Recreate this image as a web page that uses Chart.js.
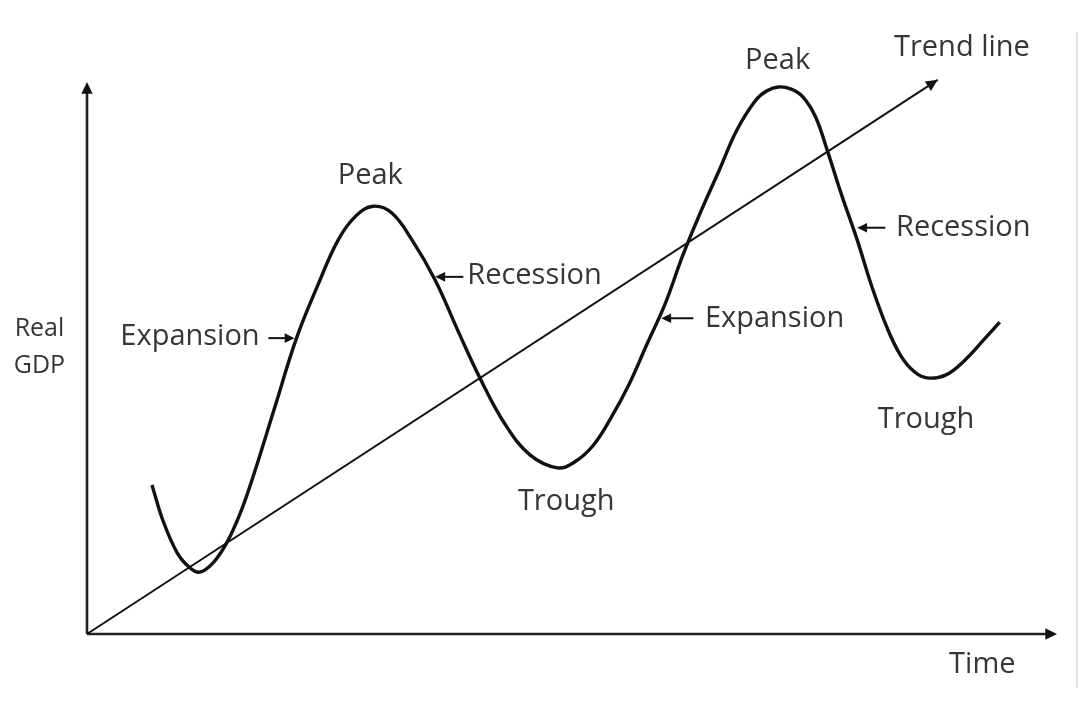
<!DOCTYPE html>
<html>
<head>
<meta charset="utf-8">
<title>Business cycle</title>
<script src="https://cdn.jsdelivr.net/npm/chart.js@4"></script>
<style>
  html, body { margin: 0; padding: 0; background: #fff; }
  #wrap { width: 1080px; height: 720px; position: relative; }
</style>
</head>
<body>
<div id="wrap"><canvas id="chart"></canvas></div>
<script>
/* =====================
Data (time 0-100, real GDP 0-100)
===================== */

var cycleTime = [6.7, 7.8, 9.3, 10.6, 11.6, 13.0, 14.4, 15.8, 17.1, 19.4, 21.6, 23.8, 25.9, 27.7, 29.5,
  31.4, 33.5, 35.9, 38.2, 40.5, 43.1, 45.7, 48.5, 50.3, 52.2, 54.0, 55.9, 57.7, 59.6, 61.4,
  63.3, 65.2, 67.0, 68.9, 70.1, 71.3, 72.6, 73.8, 75.1, 76.3, 77.8, 79.4, 80.9, 82.5, 83.9,
  85.3, 86.6, 88.5, 90.5, 92.6, 94.1];
var cycleGdp = [27.0, 20.7, 14.7, 12.0, 11.2, 12.9, 16.5, 21.9, 28.4, 41.3, 53.6, 63.2, 71.4, 75.7, 77.5,
  76.3, 71.4, 64.1, 55.1, 46.4, 38.0, 32.4, 30.1, 31.2, 34.2, 39.1, 45.3, 52.4, 59.8, 68.5,
  76.6, 84.1, 91.3, 96.6, 98.4, 99.1, 98.7, 97.3, 93.7, 87.7, 79.5, 71.4, 63.0, 55.4, 50.4,
  47.5, 46.4, 46.9, 49.6, 53.6, 56.5];

var trendTime = [0, 87.7];
var trendGdp = [0, 100.4];

var axisEnd = 100;

// text labels, placed in the same time / gdp units
var labelText = ['Peak', 'Peak', 'Trend line', 'Recession', 'Recession', 'Expansion', 'Expansion',
  'Trough', 'Trough', 'Real', 'GDP', 'Time'];
var labelTime = [29.2, 71.2, 90.2, 39.2, 83.4, 17.8, 63.7, 49.4, 86.5, -4.9, -4.9, 92.3];
var labelGdp = [83.0, 103.8, 106.2, 64.9, 73.6, 53.8, 57.2, 23.9, 38.8, 55.2, 48.6, -5.6];
var labelAlign = ['center', 'center', 'center', 'left', 'left', 'right', 'left',
  'center', 'center', 'center', 'center', 'center'];
var labelSize = [29, 29, 29, 29, 29, 29, 29, 29, 29, 25, 25, 29];

// small pointer arrows next to the phase names: [fromTime, toTime, gdp]
var pointerFrom = [38.8, 82.3, 18.7, 62.5];
var pointerTo = [35.9, 79.4, 21.4, 59.2];
var pointerGdp = [64.7, 73.6, 53.6, 57.2];

function toPoints(xs, ys) {
  return xs.map(function (x, i) { return { x: x, y: ys[i] }; });
}

/* =====================
Drawing helpers
===================== */

function arrowHead(ctx, x0, y0, x1, y1, size) {
  var a = Math.atan2(y1 - y0, x1 - x0);
  ctx.beginPath();
  ctx.moveTo(x1, y1);
  ctx.lineTo(x1 - size * Math.cos(a - 0.45), y1 - size * Math.sin(a - 0.45));
  ctx.lineTo(x1 - size * Math.cos(a + 0.45), y1 - size * Math.sin(a + 0.45));
  ctx.closePath();
  ctx.fill();
}

var diagramPlugin = {
  id: 'diagram',
  afterDatasetsDraw: function (chart) {
    var ctx = chart.ctx;
    var xs = chart.scales.x, ys = chart.scales.y;
    ctx.save();
    ctx.fillStyle = '#111';

    // arrow heads on both axes and the trend line
    arrowHead(ctx, xs.getPixelForValue(0), ys.getPixelForValue(0),
      xs.getPixelForValue(0), ys.getPixelForValue(axisEnd), 13);
    arrowHead(ctx, xs.getPixelForValue(0), ys.getPixelForValue(0),
      xs.getPixelForValue(axisEnd), ys.getPixelForValue(0), 13);
    arrowHead(ctx, xs.getPixelForValue(trendTime[0]), ys.getPixelForValue(trendGdp[0]),
      xs.getPixelForValue(trendTime[1]), ys.getPixelForValue(trendGdp[1]), 13);

    // pointers
    ctx.strokeStyle = '#111';
    ctx.lineWidth = 2;
    for (var i = 0; i < pointerFrom.length; i++) {
      var px0 = xs.getPixelForValue(pointerFrom[i]);
      var px1 = xs.getPixelForValue(pointerTo[i]);
      var py = ys.getPixelForValue(pointerGdp[i]);
      var dir = px1 > px0 ? 1 : -1;
      ctx.beginPath();
      ctx.moveTo(px0, py);
      ctx.lineTo(px1 - dir * 6, py);
      ctx.stroke();
      arrowHead(ctx, px0, py, px1, py, 11);
    }

    // labels
    ctx.fillStyle = '#363636';
    ctx.textBaseline = 'middle';
    for (var j = 0; j < labelText.length; j++) {
      ctx.font = labelSize[j] + 'px "Open Sans", Lato, sans-serif';
      ctx.textAlign = labelAlign[j];
      ctx.fillText(labelText[j], xs.getPixelForValue(labelTime[j]), ys.getPixelForValue(labelGdp[j]));
    }

    // faint border left on the right edge of the original picture
    ctx.strokeStyle = 'rgba(235,190,185,0.7)';
    ctx.lineWidth = 1.5;
    ctx.beginPath();
    ctx.moveTo(1077, 32);
    ctx.lineTo(1077, 688);
    ctx.stroke();
    ctx.restore();
  }
};

/* =====================
Chart
===================== */

var chart = new Chart(document.getElementById('chart'), {
  type: 'scatter',
  data: {
    datasets: [
      {
        label: 'Real GDP',
        data: toPoints(cycleTime, cycleGdp),
        showLine: true,
        borderColor: '#111',
        borderWidth: 3.4,
        pointRadius: 0,
        tension: 0.4,
        clip: false
      },
      {
        label: 'Trend line',
        data: toPoints(trendTime, trendGdp),
        showLine: true,
        borderColor: '#111',
        borderWidth: 2,
        pointRadius: 0,
        clip: false
      },
      {
        label: 'y axis',
        data: toPoints([0, 0], [0, axisEnd - 2]),
        showLine: true,
        borderColor: '#222',
        borderWidth: 2.6,
        pointRadius: 0,
        clip: false
      },
      {
        label: 'x axis',
        data: toPoints([0, axisEnd - 1], [0, 0]),
        showLine: true,
        borderColor: '#222',
        borderWidth: 2.6,
        pointRadius: 0,
        clip: false
      }
    ]
  },
  options: {
    responsive: true,
    maintainAspectRatio: false,
    animation: false,
    layout: { padding: { left: 87, right: 23, top: 82, bottom: 86 } },
    plugins: {
      legend: { display: false },
      tooltip: { enabled: false }
    },
    scales: {
      x: { type: 'linear', min: 0, max: 100, display: false },
      y: { type: 'linear', min: 0, max: 100, display: false }
    }
  },
  plugins: [diagramPlugin]
});
</script>
</body>
</html>
